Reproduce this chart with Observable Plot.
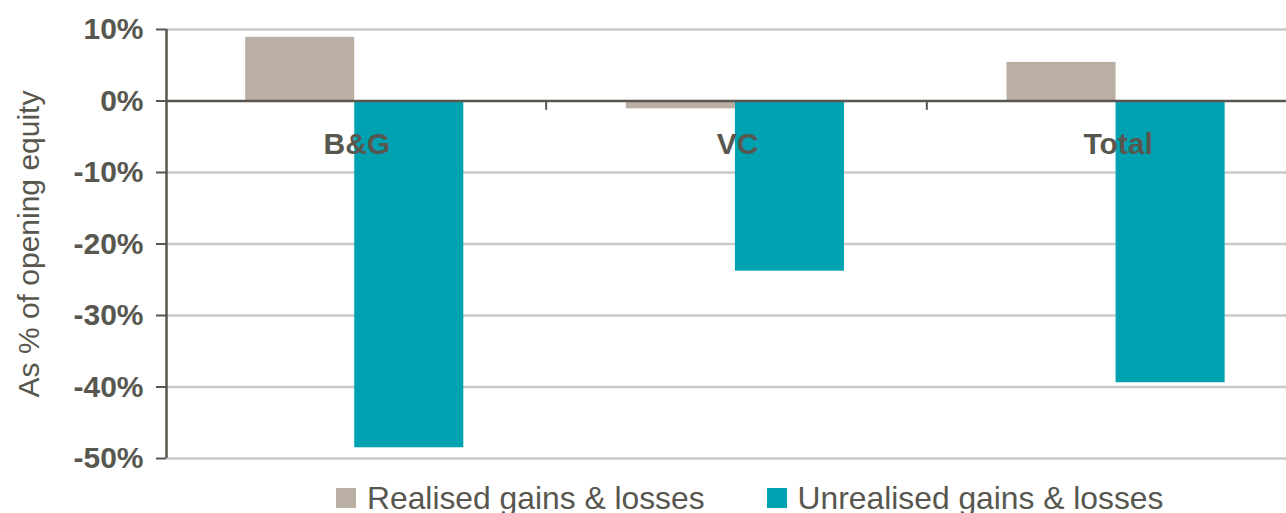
<!DOCTYPE html>
<html>
<head>
<meta charset="utf-8">
<script src="https://cdn.jsdelivr.net/npm/d3@7"></script>
<script src="https://cdn.jsdelivr.net/npm/@observablehq/plot@0.6"></script>
<style>
  html, body { margin: 0; padding: 0; background: #fff; }
  body { width: 1286px; height: 513px; position: relative; overflow: hidden; font-family: "Liberation Sans", Arial, sans-serif; }
  #chart { position: absolute; left: 0; top: 0; }
  #legend { position: absolute; left: 336px; top: 478px; height: 40px; display: flex; align-items: center; color: #57574f; font-size: 31.8px; }
  .item { display: flex; align-items: center; }
  .sw { width: 20px; height: 20px; margin-right: 11px; }
</style>
</head>
<body>
<div id="chart"></div>
<div id="legend"></div>
<script>
const categories = ["B&G", "VC", "Total"];
const realised = [8.9, -1.1, 5.4];
const unrealised = [-48.5, -23.8, -39.4];
const seriesNames = ["Realised gains & losses", "Unrealised gains & losses"];
const seriesColors = ["#bbaea2", "#00a1b0"];
const yTicks = [10, 0, -10, -20, -30, -40, -50];
const yTitle = "As % of opening equity";

const textColor = "#57574f";
const barWidth = 0.2865;   // fraction of a category slot
const groupCenter = 0.4945; // fraction of a category slot

const rows = [];
categories.forEach((c, i) => {
  rows.push({category: c, idx: i, series: seriesNames[0], value: realised[i], side: -1});
  rows.push({category: c, idx: i, series: seriesNames[1], value: unrealised[i], side: 1});
});
const cats = categories.map((c, i) => ({category: c, idx: i}));

const plot = Plot.plot({
  width: 1286,
  height: 482,
  marginLeft: 166,
  marginRight: -22,
  marginTop: 29,
  marginBottom: 24,
  style: {fontFamily: "Liberation Sans, Arial, sans-serif", color: textColor, background: "transparent"},
  x: {type: "linear", domain: [0, categories.length], axis: null},
  y: {domain: [-50, 10], ticks: yTicks},
  color: {domain: seriesNames, range: seriesColors},
  marks: [
    Plot.gridY(yTicks.filter(t => t !== 0), {stroke: "#c9c9c9", strokeOpacity: 1, strokeWidth: 2.5}),
    Plot.rectY(rows, {
      x1: d => d.idx + groupCenter + (d.side < 0 ? -barWidth : 0),
      x2: d => d.idx + groupCenter + (d.side < 0 ? 0 : barWidth),
      y1: 0,
      y2: "value",
      fill: "series"
    }),
    Plot.ruleY([0], {stroke: "#57574f", strokeWidth: 2.5}),
    Plot.ruleX(cats.slice(1), {x: "idx", dx: -1, y1: 0, y2: -1.3, stroke: "#57574f", strokeWidth: 2}),
    Plot.ruleX([0], {y1: -50, y2: 10, stroke: "#57574f", strokeWidth: 2.5}),
    Plot.axisY({
      ticks: yTicks,
      tickFormat: d => d + "%",
      tickSize: 10,
      tickPadding: 13,
      stroke: "#57574f",
      strokeWidth: 2,
      fill: textColor,
      fontSize: 30,
      fontWeight: "bold",
      label: null
    }),
    Plot.text(cats, {
      x: d => d.idx + 0.5,
      y: () => 0,
      dy: 43,
      text: "category",
      fill: textColor,
      fontSize: 30,
      fontWeight: "bold",
      lineAnchor: "middle"
    }),
    Plot.text([yTitle], {
      frameAnchor: "left",
      rotate: -90,
      dx: -137,
      text: d => d,
      fill: textColor,
      fontSize: 30,
      lineAnchor: "middle",
      textAnchor: "middle"
    })
  ]
});
document.getElementById("chart").appendChild(plot);

const legend = document.getElementById("legend");
seriesNames.forEach((name, i) => {
  const item = document.createElement("div");
  item.className = "item";
  if (i > 0) item.style.marginLeft = "62px";
  const sw = document.createElement("span");
  sw.className = "sw";
  sw.style.background = seriesColors[i];
  const label = document.createElement("span");
  label.textContent = name;
  item.appendChild(sw);
  item.appendChild(label);
  legend.appendChild(item);
});
</script>
</body>
</html>
